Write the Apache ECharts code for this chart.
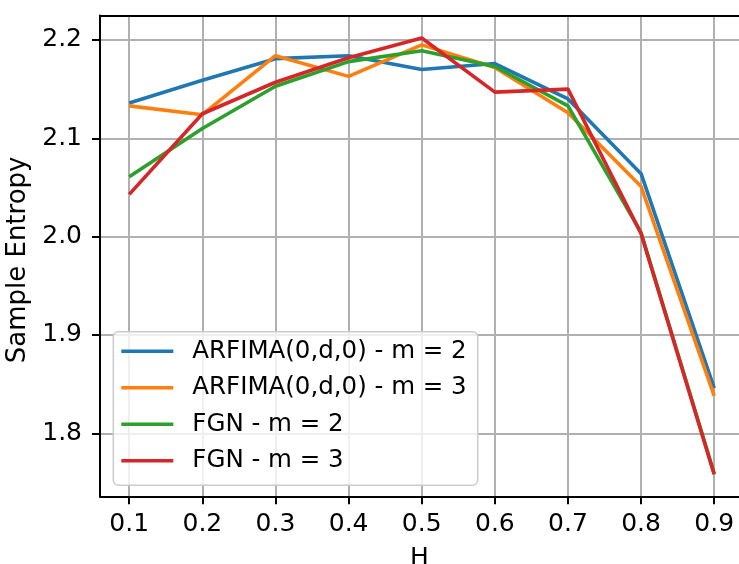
<!DOCTYPE html>
<html>
<head>
<meta charset="utf-8">
<script src="https://cdn.jsdelivr.net/npm/echarts@6/dist/echarts.min.js"></script>
<style>html,body{margin:0;padding:0;background:#fff;}#c{width:739px;height:564px;}</style>
</head>
<body>
<div id="c"></div>
<script>
const hValues = [0.1, 0.2, 0.3, 0.4, 0.5, 0.6, 0.7, 0.8, 0.9];
const arfimaM2 = [2.136, 2.159, 2.181, 2.184, 2.170, 2.176, 2.140, 2.064, 1.846];
const arfimaM3 = [2.133, 2.124, 2.184, 2.163, 2.195, 2.172, 2.126, 2.051, 1.838];
const fgnM2 = [2.061, 2.110, 2.153, 2.178, 2.189, 2.173, 2.133, 2.004, 1.759];
const fgnM3 = [2.043, 2.125, 2.157, 2.182, 2.202, 2.147, 2.150, 2.003, 1.758];
const xTicks = [0.1, 0.2, 0.3, 0.4, 0.5, 0.6, 0.7, 0.8, 0.9];
const yTicks = [1.8, 1.9, 2.0, 2.1, 2.2];
const seriesNames = ['ARFIMA(0,d,0) - m = 2', 'ARFIMA(0,d,0) - m = 3', 'FGN - m = 2', 'FGN - m = 3'];
const seriesData = [arfimaM2, arfimaM3, fgnM2, fgnM3];
const colors = ['#1f77b4', '#ff7f0e', '#2ca02c', '#d62728'];

const font = 'DejaVu Sans';
const chart = echarts.init(document.getElementById('c'), null, {renderer: 'canvas'});
const axisLineStyle = {color: '#000', width: 2};
chart.setOption({
  animation: false,
  backgroundColor: '#fff',
  grid: {left: 100, right: 0, top: 15.5, bottom: 67.7, containLabel: false, outerBoundsMode: 'none'},
  xAxis: [{
    type: 'value', min: 0.06, max: 0.9339,
    name: 'H', nameLocation: 'middle', nameGap: 50,
    nameTextStyle: {fontFamily: font, fontSize: 25, color: '#000'},
    axisLine: {show: true, onZero: false, lineStyle: axisLineStyle},
    axisTick: {show: true, length: 8, lineStyle: {color: '#000', width: 2}, customValues: xTicks},
    axisLabel: {customValues: xTicks, fontFamily: font, fontSize: 25, color: '#000', margin: 16, formatter: v => v.toFixed(1)},
    splitLine: {show: true, lineStyle: {color: '#b0b0b0', width: 2}}
  }, {
    type: 'value', position: 'top', min: 0.06, max: 0.9339,
    axisLine: {show: true, onZero: false, lineStyle: axisLineStyle},
    axisTick: {show: false}, axisLabel: {show: false}, splitLine: {show: false}
  }],
  yAxis: {
    type: 'value', min: 1.7359, max: 2.2249,
    name: 'Sample Entropy', nameLocation: 'middle', nameGap: 62, nameRotate: 90,
    nameTextStyle: {fontFamily: font, fontSize: 26, color: '#000', padding: [0, 8, 0, 0]},
    axisLine: {show: true, onZero: false, lineStyle: axisLineStyle},
    axisTick: {show: true, length: 8, lineStyle: {color: '#000', width: 2}, customValues: yTicks},
    axisLabel: {customValues: yTicks, fontFamily: font, fontSize: 25, color: '#000', margin: 18, formatter: v => v.toFixed(1)},
    splitLine: {show: true, lineStyle: {color: '#b0b0b0', width: 2}}
  },
  legend: {
    orient: 'vertical', left: 113.3, top: 331.7,
    data: seriesNames,
    icon: 'rect',
    itemWidth: 52, itemHeight: 3.6, itemGap: 11.5,
    padding: [7, 11, 12, 8],
    backgroundColor: 'rgba(255,255,255,0.8)',
    borderColor: '#cccccc', borderWidth: 1.5, borderRadius: 5,
    textStyle: {fontFamily: font, fontSize: 24.5, color: '#000', padding: [0, 0, 0, 14]}
  },
  series: seriesData.map((d, i) => ({
    name: seriesNames[i],
    type: 'line',
    data: hValues.map((h, j) => [h, d[j]]),
    symbol: 'none',
    lineStyle: {color: colors[i], width: 3.6},
    itemStyle: {color: colors[i]},
    z: 3 + i
  }))
});
</script>
</body>
</html>
